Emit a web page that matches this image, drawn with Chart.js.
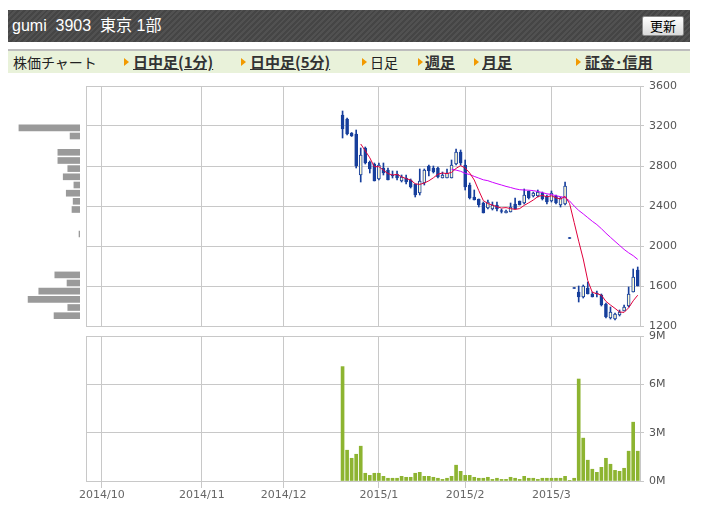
<!DOCTYPE html>
<html lang="ja"><head><meta charset="utf-8">
<script src="https://cdn.jsdelivr.net/npm/chart.js@4.4.1/dist/chart.umd.min.js"></script>
<style>
html,body{margin:0;padding:0;background:#fff;}
body{width:701px;height:519px;position:relative;overflow:hidden;font-family:"Noto Sans CJK JP","Noto Sans",sans-serif;}
#hdr{position:absolute;left:8px;top:10px;width:682px;height:32px;background:repeating-linear-gradient(-45deg,#454545 0,#454545 2px,#515151 2px,#515151 4px);}
#ttl{position:absolute;left:4px;top:0;line-height:32px;color:#fff;font-size:16px;white-space:pre;font-family:"Liberation Sans","Noto Sans CJK JP",sans-serif;}
#btn{position:absolute;left:634px;top:6px;width:42px;height:20px;box-sizing:border-box;border:1px solid #8a8a8a;border-radius:2px;background:linear-gradient(#ffffff,#dadada);font-size:13px;line-height:18px;text-align:center;color:#000;}
#nav{position:absolute;left:8px;top:49px;width:682px;height:22px;border-top:2px solid #bdbdbd;background:#e9f2da;}
.it{position:absolute;top:0;line-height:22px;white-space:nowrap;color:#222;font-size:14px;}
.lk{font-weight:bold;text-decoration:underline;color:#333;font-size:15px;}
.ar{position:absolute;top:7px;width:0;height:0;border-left:5px solid #f29a00;border-top:4px solid transparent;border-bottom:4px solid transparent;}
canvas{position:absolute;left:0;}
</style></head>
<body>
<div id="hdr"><div id="ttl">gumi  3903  東京 1部</div><div id="btn">更新</div></div>
<div id="nav">
  <span class="it" style="left:5px">株価チャート</span>
  <span class="ar" style="left:116px"></span><span class="it lk" style="left:125px">日中足(1分)</span>
  <span class="ar" style="left:233px"></span><span class="it lk" style="left:242px">日中足(5分)</span>
  <span class="ar" style="left:354px"></span><span class="it" style="left:362px">日足</span>
  <span class="ar" style="left:410px"></span><span class="it lk" style="left:417px">週足</span>
  <span class="ar" style="left:466px"></span><span class="it lk" style="left:474px">月足</span>
  <span class="ar" style="left:568px"></span><span class="it lk" style="left:577px">証金･信用</span>
</div>
<canvas id="prof" width="86" height="264" style="top:74px"></canvas>
<canvas id="price" width="701" height="264" style="top:74px"></canvas>
<canvas id="vol" width="701" height="195" style="top:324px"></canvas>
<script>
// ---- categories (trading days) ----
const months = ['2014/9','2014/10','2014/11','2014/12','2015/1','2015/2','2015/3'];
const daysSep = [26,29,30];
const daysOct = [1,2,3,6,7,8,9,10,14,15,16,17,20,21,22,23,24,27,28,29,30,31];
const daysNov = [4,5,6,7,10,11,12,13,14,17,18,19,20,21,25,26,27,28];
const daysDec = [1,2,3,4,5,8,9,10,11,12,15,16,17,18,19,22,24,25,26,29,30];
const daysJan = [5,6,7,8,9,13,14,15,16,19,20,21,22,23,26,27,28,29,30];
const daysFeb = [2,3,4,5,6,9,10,12,13,16,17,18,19,20,23,24,25,26,27];
const daysMar = [2,3,4,5,6,9,10,11,12,13,16,17,18,19,20,23,24,25,26,27];
const tickLabels = ['2014/10','2014/11','2014/12','2015/1','2015/2','2015/3'];
const firstDataDay = '2014/12/18';

// ---- price series (from 2014/12/18) ----
const opens  = [3310,3270,3130,3120,2710,2980,2840,2820,2670,2780,2760,2710,2720,2650,2680,2660,2620,2530,2630,2800,2780,2780,2680,2680,2680,2820,2940,2810,2610,2490,2470,2430,2380,2370,2410,2355,2330,2340,2420,2450,2430,2550,2500,2500,2530,2500,2450,2500,2410,2420,2085,1585,1540,1490,1580,1520,1530,1510,1420,1280,1270,1310,1350,1400,1540,1760];
const highs  = [3350,3280,3135,3160,2980,2990,2850,2830,2830,2830,2780,2750,2750,2710,2710,2670,2620,2770,2770,2810,2800,2790,2740,2770,2860,2970,2960,2860,2630,2560,2470,2440,2460,2440,2440,2370,2360,2430,2480,2450,2570,2550,2540,2560,2540,2510,2550,2510,2490,2640,2085,1585,1600,1610,1640,1540,1550,1520,1430,1390,1330,1360,1410,1590,1770,1790];
const lows   = [3080,3110,3095,2780,2640,2820,2730,2650,2660,2710,2660,2680,2660,2640,2620,2580,2490,2510,2610,2700,2730,2680,2680,2680,2680,2810,2810,2560,2470,2460,2390,2330,2370,2360,2350,2330,2330,2340,2370,2410,2420,2470,2490,2490,2460,2420,2440,2420,2390,2410,2075,1575,1440,1480,1520,1490,1490,1400,1280,1270,1260,1300,1350,1390,1540,1600];
const closes = [3170,3120,3100,2800,2910,2830,2770,2650,2810,2730,2660,2700,2680,2690,2640,2590,2510,2650,2760,2750,2740,2690,2710,2730,2810,2940,2830,2590,2480,2460,2410,2330,2440,2410,2370,2345,2350,2390,2370,2410,2510,2480,2530,2540,2470,2440,2530,2430,2480,2600,2075,1575,1490,1600,1520,1490,1520,1410,1290,1340,1320,1340,1390,1520,1690,1600];
const ma5  = [null,null,null,null,3020,2952,2882,2792,2794,2758,2724,2710,2716,2692,2674,2660,2622,2616,2630,2652,2682,2718,2730,2724,2736,2776,2804,2780,2730,2660,2554,2454,2424,2410,2392,2380,2384,2374,2366,2374,2406,2432,2460,2494,2506,2492,2502,2482,2470,2496,2424,2236,2048,1870,1654,1536,1524,1508,1446,1410,1376,1340,1336,1382,1452,1508];
const ma25 = [null,null,null,null,null,null,null,null,null,null,null,null,null,null,null,null,null,null,null,null,null,null,null,null,2768,2759,2747,2727,2714,2696,2679,2662,2653,2637,2623,2610,2596,2585,2572,2563,2560,2558,2554,2545,2534,2522,2515,2503,2493,2485,2450,2400,2356,2321,2284,2247,2214,2173,2128,2087,2046,2006,1966,1932,1903,1866];
// volume (millions of shares)
const volumes = [7.10,1.91,1.41,1.66,2.16,0.48,0.35,0.48,0.48,0.29,0.17,0.17,0.17,0.29,0.23,0.23,0.48,0.54,0.29,0.29,0.23,0.17,0.10,0.17,0.29,0.98,0.60,0.35,0.35,0.23,0.17,0.17,0.23,0.10,0.17,0.10,0.10,0.23,0.17,0.10,0.29,0.17,0.17,0.10,0.17,0.17,0.17,0.17,0.17,0.29,0.04,0.17,6.33,2.66,1.29,0.73,0.54,0.85,1.41,1.04,0.66,0.60,0.79,1.85,3.65,1.85];
// volume by price (left panel)
const profilePrices = [3182,3100,2937,2855,2774,2692,2610,2528,2447,2365,2120,1711,1630,1548,1466,1385,1303];
const profileVolumes = [8.0,1.3,2.9,2.9,1.6,2.2,0.8,1.8,0.9,1.05,0.13,3.3,1.7,5.4,6.8,1.6,3.4];

// ---- build ----
const dayLists = [daysSep,daysOct,daysNov,daysDec,daysJan,daysFeb,daysMar];
const categories = [];
const monthStart = {};
months.forEach((m,k)=>{
  dayLists[k].forEach((d,j)=>{
    if (j===0 && tickLabels.includes(m)) monthStart[categories.length] = m;
    categories.push(m+'/'+d);
  });
});
const startIdx = categories.indexOf(firstDataDay);
const pad = arr => Array(startIdx).fill(null).concat(arr);

const BLUE = '#173f9c', CREAM = '#fffbd2', GRID = '#c8c8c8', LBL = '#555555';
Chart.defaults.font.family = '"DejaVu Sans", Verdana, sans-serif';
Chart.defaults.font.size = 11;
Chart.defaults.color = LBL;

const frame = { id:'frame', beforeDatasetsDraw(chart){
  const {ctx, chartArea:a} = chart; ctx.save();
  ctx.strokeStyle = GRID; ctx.lineWidth = 1;
  const x = Math.round(a.left)+0.5;
  ctx.beginPath(); ctx.moveTo(x, Math.round(a.top)); ctx.lineTo(x, Math.round(a.bottom)+1); ctx.stroke();
  ctx.restore();
}};
const gridCol = c => (monthStart[c.index] !== undefined) ? GRID : 'rgba(0,0,0,0)';
const PADV = 12;

new Chart(document.getElementById('price'), {
  type:'bar',
  data:{ labels:categories, datasets:[
    {type:'line', data:pad(ma5), borderColor:'#e0003c', borderWidth:1, pointRadius:0, tension:0, order:0},
    {type:'line', data:pad(ma25), borderColor:'#cc00ff', borderWidth:1, pointRadius:0, tension:0, order:0},
    {data:pad(opens.map((o,i)=>[o, closes[i]])), grouped:false, barThickness:3, borderWidth:1, borderSkipped:false,
      borderColor:BLUE, backgroundColor:c=>{const v=c.raw; return (v && v[1]>v[0]) ? CREAM : BLUE;}, order:1},
    {data:pad(lows.map((l,i)=>[l, highs[i]])), grouped:false, barThickness:1, backgroundColor:BLUE, order:2}
  ]},
  options:{
    responsive:false, animation:false, devicePixelRatio:1,
    layout:{padding:{left:86, top:PADV, bottom:PADV, right:0}},
    plugins:{legend:{display:false}, tooltip:{enabled:false}},
    scales:{
      x:{type:'category', offset:true, grid:{offset:false, color:gridCol, drawTicks:false},
         border:{display:false}, ticks:{display:false, autoSkip:false},
         afterFit:s=>{s.height=0;}},
      y:{position:'right', min:1200, max:3600,
         ticks:{stepSize:400, padding:5, color:LBL, callback:v=>String(v)},
         grid:{color:GRID, tickLength:4}, border:{color:GRID},
         afterFit:s=>{s.width=61;}}
    }
  },
  plugins:[frame]
});

new Chart(document.getElementById('vol'), {
  type:'bar',
  data:{ labels:categories, datasets:[
    {data:pad(volumes), backgroundColor:'#8db431', barThickness:3}
  ]},
  options:{
    responsive:false, animation:false, devicePixelRatio:1,
    layout:{padding:{left:86, top:PADV, bottom:0, right:0}},
    plugins:{legend:{display:false}, tooltip:{enabled:false}},
    scales:{
      x:{type:'category', offset:true, grid:{offset:false, color:gridCol, tickLength:7},
         border:{display:false},
         ticks:{autoSkip:false, maxRotation:0, minRotation:0, padding:1, color:'#666666',
                callback:(v,i)=> monthStart[i] !== undefined ? monthStart[i] : ''},
         afterFit:s=>{s.height=38;}},
      y:{position:'right', min:0, max:9, ticks:{stepSize:3, padding:5, color:LBL, callback:v=>v+'M'},
         grid:{color:GRID, tickLength:4}, border:{color:GRID},
         afterFit:s=>{s.width=61;}}
    }
  },
  plugins:[frame]
});

new Chart(document.getElementById('prof'), {
  type:'bar',
  data:{ datasets:[
    {data:profilePrices.map((p,i)=>({x:profileVolumes[i], y:p})), backgroundColor:'#9a9a9a', barThickness:6}
  ]},
  options:{
    indexAxis:'y', responsive:false, animation:false, devicePixelRatio:1,
    layout:{padding:{left:10, right:6, top:PADV, bottom:PADV}},
    plugins:{legend:{display:false}, tooltip:{enabled:false}},
    scales:{
      y:{type:'linear', min:1200, max:3600, offset:false, display:false},
      x:{type:'linear', min:0, max:9.17, reverse:true, offset:false, display:false}
    }
  }
});
</script>
</body></html>
